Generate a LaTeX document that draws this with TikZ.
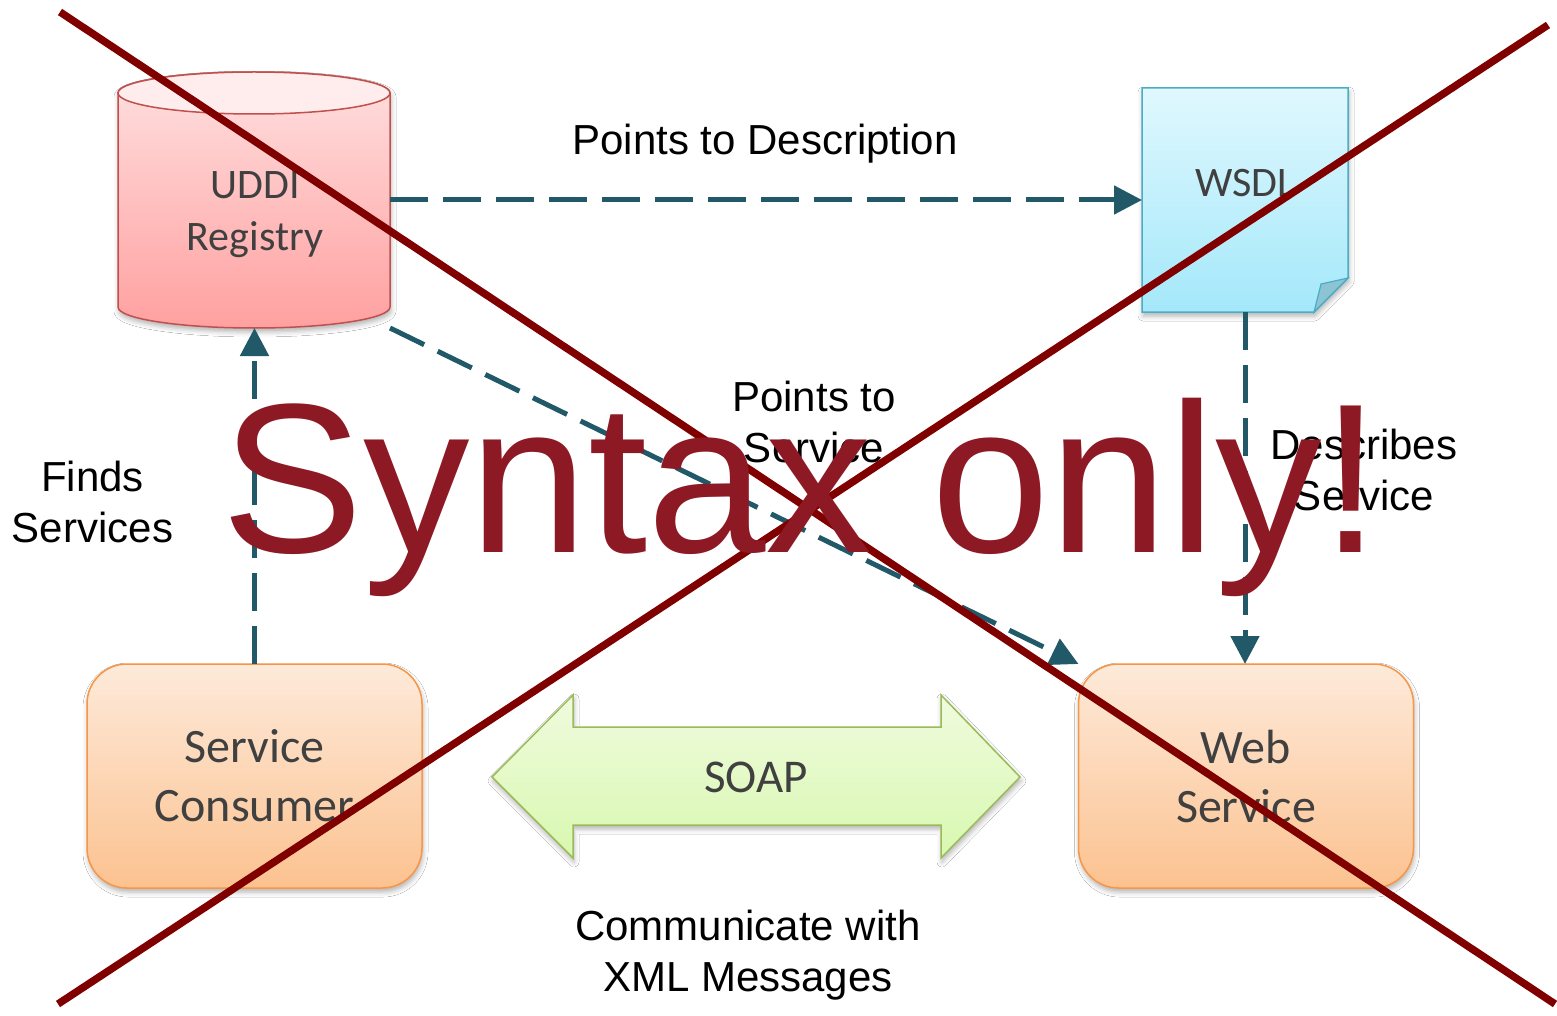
\documentclass[tikz,border=0pt]{standalone}
\usepackage{fontspec}
\setmainfont{Liberation Sans}
\newfontfamily\calibrifont{Carlito}
\usetikzlibrary{arrows.meta,shadows.blur}

\definecolor{linkteal}{RGB}{33,89,104}
\definecolor{crossred}{RGB}{128,0,0}
\definecolor{stampred}{RGB}{141,25,36}
\definecolor{boxtext}{RGB}{64,64,64}
\definecolor{orangeedge}{RGB}{247,150,70}
\definecolor{orangetop}{RGB}{253,234,218}
\definecolor{orangebot}{RGB}{252,194,144}
\definecolor{redge}{RGB}{192,80,77}
\definecolor{redtop}{RGB}{255,224,224}
\definecolor{redbot}{RGB}{255,160,160}
\definecolor{redcap}{RGB}{255,236,236}
\definecolor{blueedge}{RGB}{75,172,198}
\definecolor{bluetop}{RGB}{224,248,254}
\definecolor{bluebot}{RGB}{164,232,250}
\definecolor{bluefold}{RGB}{140,196,212}
\definecolor{greenedge}{RGB}{155,187,89}
\definecolor{greentop}{RGB}{240,251,222}
\definecolor{greenbot}{RGB}{216,248,176}

\begin{document}
\begin{tikzpicture}[x=1pt,y=1pt,
  softshadow/.style={blur shadow={shadow xshift=1pt,shadow yshift=-4pt,shadow blur radius=5pt,shadow opacity=30}},
  anchorbox/.style={rectangle,inner sep=0pt,outer sep=0pt},
  actor/.style={rectangle, rounded corners=40pt, draw=orangeedge, line width=1.5pt,
    top color=orangetop, bottom color=orangebot, minimum width=335pt, minimum height=224pt,
    inner sep=0pt, outer sep=0pt, text=boxtext, font=\calibrifont\fontsize{48}{59}\selectfont,
    align=center, softshadow},
  link/.style={draw=linkteal, line width=5pt, dash pattern=on 38pt off 15pt,
    -{Triangle[length=28pt,width=28pt]}},
  caption/.style={text=black, font=\fontsize{42}{51}\selectfont, align=center, inner sep=0pt},
  shapetext/.style={text=boxtext, font=\calibrifont\fontsize{42}{52}\selectfont, align=center, inner sep=0pt},
  crossline/.style={draw=crossred, line width=7.5pt},
]
\fill[white] (0,0) rectangle (1557,-1016);
\useasboundingbox (0,0) rectangle (1557,-1016);

% UDDI registry: a cylinder drawn inside its anchor box
\node[anchorbox, minimum width=272pt, minimum height=256pt] (uddi) at (254,-200) {};
\path[draw=redge, line width=1.5pt, top color=redtop, bottom color=redbot, softshadow]
  (118,-93) -- (118,-307) arc[start angle=180, end angle=360, x radius=136, y radius=21]
  -- (390,-93) arc[start angle=0, end angle=180, x radius=136, y radius=21] -- cycle;
\path[draw=redge, line width=1.5pt, fill=redcap] (254,-93) ellipse[x radius=136, y radius=21];
\node[shapetext] (uddilabel) at (255,-215) {UDDI\\Registry};

% WSDL document with a folded corner
\node[anchorbox, minimum width=206pt, minimum height=224pt] (wsdl) at (1245,-200) {};
\path[draw=blueedge, line width=1.5pt, top color=bluetop, bottom color=bluebot, softshadow]
  (1142,-88) -- (1348,-88) -- (1348,-278) -- (1314,-312) -- (1142,-312) -- cycle;
\path[draw=blueedge, line width=1.2pt, fill=bluefold]
  (1348,-278) -- (1321,-284) -- (1314,-312) -- cycle;
\node[shapetext, font=\calibrifont\fontsize{42}{50}\selectfont, anchor=base] (wsdllabel) at (1245,-197) {WSDL};

% consumer and provider
\node[actor] (consumer) at (254.5,-776) {Service\\Consumer};
\node[actor] (web) at (1246,-776) {Web\\Service};

% SOAP double arrow
\path[draw=greenedge, line width=1.5pt, top color=greentop, bottom color=greenbot, softshadow]
  (492,-777) -- (573,-695) -- (573,-727) -- (941,-727) -- (941,-695) -- (1020,-777)
  -- (941,-858) -- (941,-825) -- (573,-825) -- (573,-858) -- cycle;
\node[text=boxtext, font=\calibrifont\fontsize{47}{56}\selectfont, inner sep=0pt] (soap) at (756,-777) {SOAP};

% dashed relations
\draw[link] (uddi.east) -- (wsdl.west);
\draw[link] (uddi.south east) -- (web.north west);
\draw[link] (consumer.north) -- (consumer.north |- uddi.south);
\draw[link] (wsdl.south) -- (wsdl.south |- web.north);

% relation captions
\node[caption, anchor=base] (desc) at (765,-155) {Points to Description};
\node[caption] (ptsvc) at (814,-421.5) {Points to\\Service};
\node[caption] (finds) at (92.5,-502) {Finds\\Services};
\node[caption] (descr) at (1364,-469.5) {Describes\\Service};
\node[caption, font=\fontsize{42}{51}\selectfont] (comm) at (748,-955) {Communicate with\\XML Messages};

% crossing-out lines
\coordinate (xa) at (60,-12);
\coordinate (xb) at (1555,-1004);
\coordinate (xc) at (1548,-25);
\coordinate (xd) at (58,-1004);
\draw[crossline] (xa) -- (xb);
\draw[crossline] (xc) -- (xd);

% overlay stamp
\node[text=stampred, font=\fontsize{213}{250}\selectfont, anchor=base west, inner sep=0pt] (stamp) at (221,-552) {Syntax only!};
\end{tikzpicture}
\end{document}
